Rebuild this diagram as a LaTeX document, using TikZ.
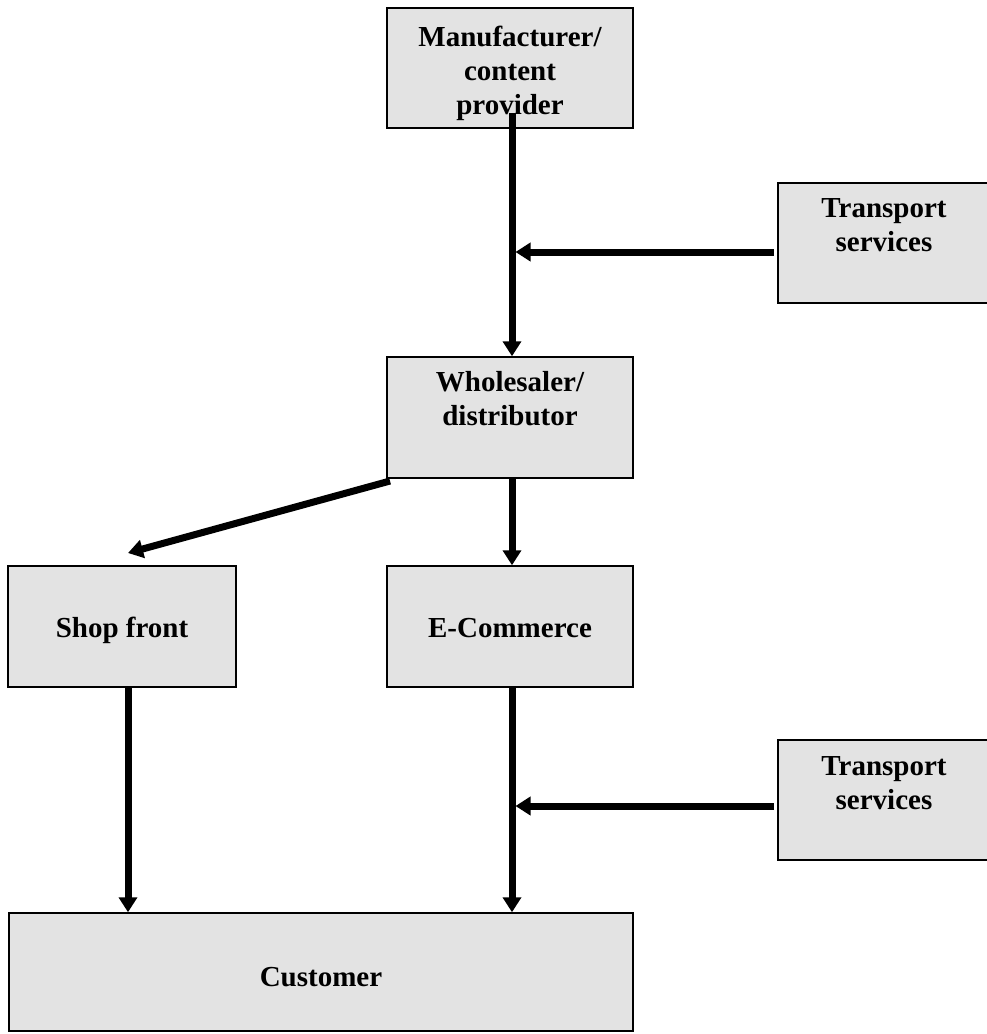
\documentclass[tikz,border=0pt]{standalone}
\usepackage{fontspec}
\setmainfont{Liberation Serif}
\usetikzlibrary{arrows.meta}
\definecolor{boxfill}{RGB}{227,227,227}
\tikzset{
  box/.style={draw=black, line width=1.5pt, fill=boxfill, rectangle, inner sep=0pt},
  lbl/.style={inner sep=0pt, align=center, font=\bfseries\fontsize{29}{34}\selectfont},
  flow/.style={line width=7pt, -{Triangle[length=15pt,width=18pt]}}
}
\begin{document}
\begin{tikzpicture}[x=1pt, y=-1pt]
\useasboundingbox (0,0) rectangle (987,1034);

% boxes
\node[box, minimum width=246pt, minimum height=120pt] (man)  at (510,68)    {};
\node[box, minimum width=212pt, minimum height=120pt] (tr1)  at (884,243)   {};
\node[box, minimum width=246pt, minimum height=121pt] (whol) at (510,417.5) {};
\node[box, minimum width=228pt, minimum height=121pt] (shop) at (122,626.5) {};
\node[box, minimum width=246pt, minimum height=121pt] (ecom) at (510,626.5) {};
\node[box, minimum width=212pt, minimum height=120pt] (tr2)  at (884,800)   {};
\node[box, minimum width=624pt, minimum height=118pt] (cust) at (321,972)   {};

% labels
\node[lbl, anchor=north] (manT)  at ([yshift=-19pt]man.north)  {Manufacturer/\\content\\provider};
\node[lbl, anchor=north] (tr1T)  at ([yshift=-16pt]tr1.north)  {Transport\\services};
\node[lbl, anchor=north] (wholT) at ([yshift=-15pt]whol.north) {Wholesaler/\\distributor};
\node[lbl, anchor=base]  (shopT) at (122,637) {Shop front};
\node[lbl, anchor=base]  (ecomT) at (510,637) {E-Commerce};
\node[lbl, anchor=north] (tr2T)  at ([yshift=-17pt]tr2.north)  {Transport\\services};
\node[lbl, anchor=base]  (custT) at (321,986) {Customer};

% connection points on the two trunk lines
\coordinate (manout) at (512,113);
\coordinate (j1) at (512,252);
\coordinate (t1out) at (774,252);
\coordinate (j2) at (512,806);
\coordinate (t2out) at (774,806);
\coordinate (wout) at (390,481);
\coordinate (shopin) at (128,553);

% connectors (drawn last, so the trunk runs over the top label)
\draw[flow] (manout) -- (manout |- whol.north);
\draw[flow] (t1out) -- ([xshift=3.5pt]j1);
\draw[flow] (wout) -- (shopin);
\draw[flow] (whol.south -| manout) -- (ecom.north -| manout);
\draw[flow] (shop.south -| shopin) -- (cust.north -| shopin);
\draw[flow] (ecom.south -| manout) -- (cust.north -| manout);
\draw[flow] (t2out) -- ([xshift=3.5pt]j2);
\end{tikzpicture}
\end{document}
